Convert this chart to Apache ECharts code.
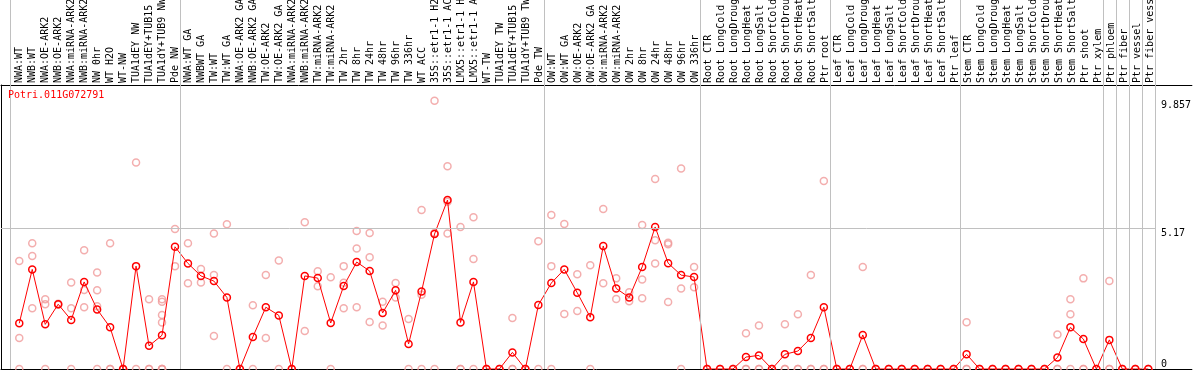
<!DOCTYPE html>
<html>
<head>
<meta charset="utf-8">
<script src="https://cdn.jsdelivr.net/npm/echarts@6/dist/echarts.min.js"></script>
<style>
html,body{margin:0;padding:0;background:#fff;}
#chart{width:1194px;height:370px;}
</style>
</head>
<body>
<div id="chart"></div>
<script>
// ---------------- data ----------------
const titleText = 'Potri.011G072791';

const categories = [
  'NWA:WT','NWB:WT','NWA:OE-ARK2','NWB:OE-ARK2','NWA:miRNA-ARK2','NWB:miRNA-ARK2','NW 0hr','WT H2O','WT-NW',
  'TUA1dEY NW','TUA1dEY+TUB15 NW','TUA1dY+TUB9 NW','Pde NW',
  'NWA:WT GA','NWBWT GA','TW:WT','TW:WT GA','NWA:OE-ARK2 GA','NWB:OE-ARK2 GA','TW:OE-ARK2','TW:OE-ARK2 GA',
  'NWA:miRNA-ARK2 GA','NWB:miRNA-ARK2 GA','TW:miRNA-ARK2','TW:miRNA-ARK2 GA',
  'TW 2hr','TW 8hr','TW 24hr','TW 48hr','TW 96hr','TW 336hr','WT ACC',
  '35S::etr1-1 H2O','35S::etr1-1 ACC','LMX5::etr1-1 H2O','LMX5::etr1-1 ACC',
  'WT-TW','TUA1dEY TW','TUA1dEY+TUB15 TW','TUA1dY+TUB9 TW','Pde TW',
  'OW:WT','OW:WT GA','OW:OE-ARK2','OW:OE-ARK2 GA','OW:miRNA-ARK2','OW:miRNA-ARK2 GA',
  'OW 2hr','OW 8hr','OW 24hr','OW 48hr','OW 96hr','OW 336hr',
  'Root CTR','Root LongCold','Root LongDrought','Root LongHeat','Root LongSalt',
  'Root ShortCold','Root ShortDrought','Root ShortHeat','Root ShortSalt','Ptr root',
  'Leaf CTR','Leaf LongCold','Leaf LongDrought','Leaf LongHeat','Leaf LongSalt',
  'Leaf ShortCold','Leaf ShortDrought','Leaf ShortHeat','Leaf ShortSalt','Ptr leaf',
  'Stem CTR','Stem LongCold','Stem LongDrought','Stem LongHeat','Stem LongSalt',
  'Stem ShortCold','Stem ShortDrought','Stem ShortHeat','Stem ShortSalt','Ptr shoot',
  'Ptr xylem','Ptr phloem','Ptr fiber','Ptr vessel','Ptr fiber vessel'
];

const means = [
  1.68,3.66,1.64,2.38,1.80,3.20,2.19,1.53,0,3.78,0.85,1.24,4.49,
  3.88,3.42,3.23,2.63,0,1.18,2.27,1.97,0,3.42,3.34,1.69,3.05,3.93,3.60,2.06,2.89,0.92,2.85,
  4.96,6.21,1.71,3.20,0,0,0.61,0,2.35,
  3.16,3.66,2.80,1.90,4.52,2.96,2.63,3.75,5.22,3.89,3.45,3.38,
  0,0,0,0.44,0.50,0,0.54,0.66,1.14,2.27,
  0,0,1.25,0,0,0,0,0,0,0,
  0.54,0,0,0,0,0,0,0.42,1.53,1.10,
  0,1.07,0,0,0
];

const replicates = [
  [3.97,1.14,0],[4.62,4.15,2.23],[2.56,2.38,0],[2.40,2.36],[3.18,2.23,0],[4.36,2.90,2.27],
  [3.55,2.89,2.31,0],[4.62,0,0],[0,0,0],[7.59,0],[2.56,0,0],[2.56,2.47,1.98,1.71,0,0,0],[5.14,3.78],
  [4.62,3.15],[3.67,3.18],[4.98,3.45,1.21],[5.32,0],[0,0],[2.34,0],[3.45,1.14],[3.99,0],
  [0,0],[5.39,1.40],[3.59,3.04],[3.37,0],[3.78,3.17,2.23],[5.07,4.43,2.27],[5.00,4.11,1.73],
  [2.47,1.60],[3.16,2.63],[1.84,0],[5.84,2.73,0],
  [9.857,5.00,0],[7.45,6.15,4.98],[5.22,0,0],[5.58,4.04,0],[0,0],[0,0],[1.87,0,0],[0,0],[4.69,0],
  [5.66,3.78,0],[5.33,2.02],[3.48,2.13],[3.81,0],[5.88,3.15],[3.33,2.57],[2.82,2.49],
  [5.29,3.29,2.60],[6.98,4.73,3.88],[4.64,4.58,2.46],[7.37,2.96,0],[3.75,3.00],
  [0,0],[0,0],[0,0],[1.31,0,0],[1.60,0,0],[0,0],[1.64,0,0],[2.01,0,0],[3.45,0,0],[6.91,0,0],
  [0,0],[0,0],[3.75,0,0],[0,0],[0,0],[0,0],[0,0],[0,0],[0,0],[0,0],
  [1.72,0,0],[0,0],[0,0],[0,0],[0,0],[0,0],[0,0],[1.27,0,0],[2.56,2.01,0],[3.33,0,0],
  [0,0],[3.23,0,0],[0,0],[0,0],[0,0]
];

// index of last sample in each group (separator drawn after it)
const groupEnds = [12, 40, 52, 62, 72, 83, 84, 85, 86, 87];

const yLabelValues = [5.17, 9.857];
const yZeroLabel = [0];
const gridLineValue = 5.17;

// ---------------- layout ----------------
const W = 1194;
const STEP = 13;          // px per sample
const FIRST_X = 19.3;     // px of first sample
const GRID_LEFT = 1;
const xMin = (GRID_LEFT - FIRST_X) / STEP;
const xMax = (W - FIRST_X) / STEP;
const PLOT_TOP = 85, PLOT_BOTTOM = 369;
const yMax = (PLOT_BOTTOM - PLOT_TOP) / 27.215;
const SEP_OFFSET = 0.36;
const FIRST_SEP = -0.692;
const GRID_END = 87.52;
const FONT = 'DejaVu Sans Mono';

const meanData = means.map((v, i) => [i, v]);
const repData = [];
replicates.forEach((arr, i) => arr.forEach(v => repData.push([i, v])));

const sepLines = [{xAxis: FIRST_SEP}].concat(groupEnds.map(e => ({xAxis: e + SEP_OFFSET})));

const blackLine = {show: true, onZero: false, lineStyle: {color: '#000', width: 1}};

const chart = echarts.init(document.getElementById('chart'), null, {renderer: 'canvas'});
chart.setOption({
  animation: false,
  backgroundColor: '#fff',
  title: {
    text: titleText, left: 8, top: 90, padding: 0,
    textStyle: {color: '#ff0000', fontFamily: FONT, fontSize: 10, fontWeight: 'normal'}
  },
  grid: [
    {left: GRID_LEFT, right: 0, top: PLOT_TOP, bottom: 370 - PLOT_BOTTOM},           // plot
    {left: FIRST_X - STEP / 2, width: STEP * categories.length, top: PLOT_TOP - 1, height: 1}, // labels
    {left: GRID_LEFT, right: 0, top: 0, bottom: 370 - PLOT_BOTTOM}                     // separators
  ],
  xAxis: [
    {type: 'value', gridIndex: 0, position: 'top', min: xMin, max: xMax,
     axisLine: blackLine, axisTick: {show: false},
     axisLabel: {show: false}, splitLine: {show: false}},
    {type: 'value', gridIndex: 0, position: 'bottom', min: xMin, max: xMax,
     axisLine: blackLine, axisTick: {show: false},
     axisLabel: {show: false}, splitLine: {show: false}},
    {type: 'category', gridIndex: 1, position: 'top', data: categories, boundaryGap: true,
     axisLine: {show: false, onZero: false}, axisTick: {show: false}, splitLine: {show: false},
     axisLabel: {interval: 0, rotate: -90, margin: 2, color: '#000', fontFamily: FONT, fontSize: 10}},
    {type: 'value', gridIndex: 2, min: xMin, max: xMax, show: false}
  ],
  yAxis: [
    {type: 'value', gridIndex: 0, position: 'right', min: 0, max: yMax,
     axisLine: {show: false, onZero: false}, axisTick: {show: false}, splitLine: {show: false},
     axisLabel: {inside: true, align: 'left', verticalAlign: 'top', margin: 31, customValues: yLabelValues,
       color: '#000', fontFamily: FONT, fontSize: 10, formatter: v => String(v)}},
    {type: 'value', gridIndex: 0, position: 'right', min: 0, max: yMax,
     axisLine: {show: false, onZero: false}, axisTick: {show: false}, splitLine: {show: false},
     axisLabel: {inside: true, align: 'left', verticalAlign: 'bottom', margin: 31, customValues: yZeroLabel,
       color: '#000', fontFamily: FONT, fontSize: 10, formatter: v => String(v)}},
    {type: 'value', gridIndex: 0, position: 'left', min: 0, max: yMax,
     axisLine: blackLine, axisTick: {show: false},
     axisLabel: {show: false}, splitLine: {show: false}},
    {type: 'value', gridIndex: 1, show: false, min: 0, max: 1},
    {type: 'value', gridIndex: 2, show: false, min: 0, max: 1}
  ],
  series: [
    {
      type: 'line', xAxisIndex: 3, yAxisIndex: 4, data: [], silent: true, z: 1,
      markLine: {
        silent: true, symbol: ['none', 'none'], animation: false,
        label: {show: false},
        lineStyle: {color: '#c0c0c0', width: 1, type: 'solid'},
        data: sepLines
      }
    },
    {
      type: 'line', xAxisIndex: 0, yAxisIndex: 0, data: [], silent: true, z: 1,
      markLine: {
        silent: true, symbol: ['none', 'none'], animation: false,
        label: {show: false},
        lineStyle: {color: '#c0c0c0', width: 1, type: 'solid'},
        data: [[{coord: [xMin, gridLineValue]}, {coord: [GRID_END, gridLineValue]}]]
      }
    },
    {
      type: 'scatter', xAxisIndex: 0, yAxisIndex: 0, data: repData, z: 2,
      symbol: 'circle', symbolSize: 7, silent: true,
      itemStyle: {color: 'rgba(255,255,255,0)', borderColor: '#f09a9a', borderWidth: 1.5}
    },
    {
      type: 'line', xAxisIndex: 0, yAxisIndex: 0, data: meanData, z: 3,
      symbol: 'circle', symbolSize: 7, showSymbol: true, showAllSymbol: true, silent: true,
      lineStyle: {color: '#ff0000', width: 1},
      itemStyle: {color: 'rgba(255,255,255,0)', borderColor: '#ff0000', borderWidth: 1.5}
    }
  ]
});
</script>
</body>
</html>
